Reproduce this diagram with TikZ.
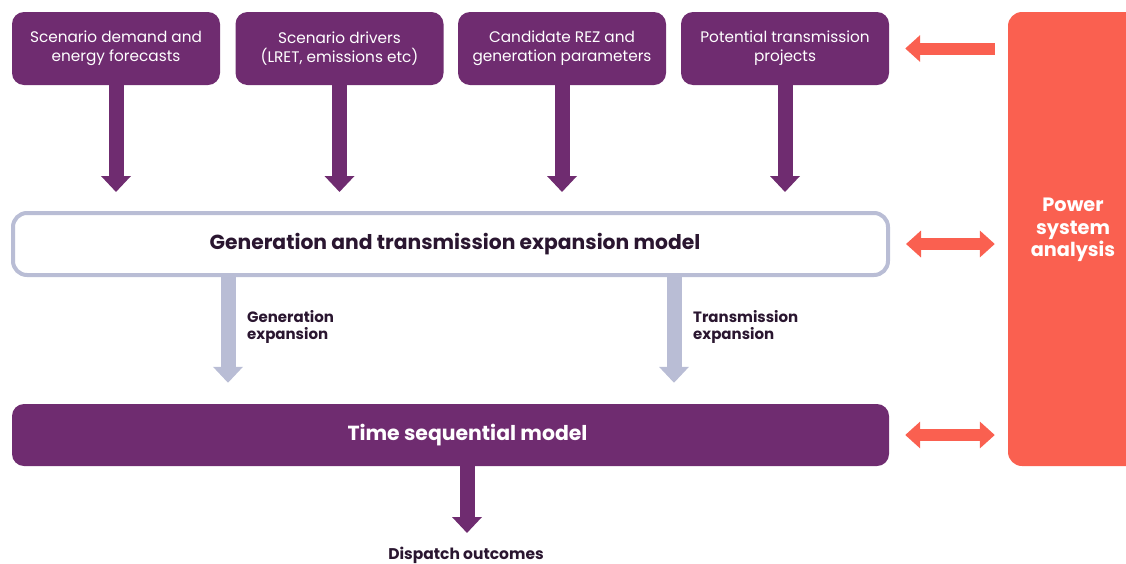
\documentclass[tikz,border=0pt]{standalone}
\usepackage{fontspec}
\setmainfont{Poppins}
\usetikzlibrary{arrows.meta}
\definecolor{ppl}{HTML}{6F2C70}
\definecolor{gry}{HTML}{B9BDD5}
\definecolor{rd}{HTML}{FA6050}
\definecolor{dk}{HTML}{2A1630}
\tikzset{
  topbox/.style={fill=ppl, rounded corners=12pt, minimum width=208pt, minimum height=73pt, text=white, align=center, inner sep=0pt, font=\fontsize{15.3}{19}\selectfont},
  purarrow/.style={draw=ppl, line width=15pt, -{Triangle[width=29pt,length=16pt]}},
  gryarrow/.style={draw=gry, line width=15pt, -{Triangle[width=29pt,length=16pt]}},
  redarrow/.style={draw=rd, line width=12pt, -{Triangle[width=26pt,length=15pt]}},
  redboth/.style={draw=rd, line width=12pt, {Triangle[width=26pt,length=15pt]}-{Triangle[width=26pt,length=15pt]}},
  lbl/.style={text=dk, align=left, font=\bfseries\fontsize{15}{17}\selectfont, inner sep=0pt, anchor=west},
}
\begin{document}
\begin{tikzpicture}[x=1pt,y=-1pt]
\useasboundingbox (0,0) rectangle (1126,563);
\node[topbox] (b1) at (116,48.5) {Scenario demand and\\energy forecasts};
\node[topbox] (b2) at (339.5,48.5) {Scenario drivers\\(LRET, emissions etc)};
\node[topbox] (b3) at (562,48.5) {Candidate REZ and\\generation parameters};
\node[topbox] (b4) at (785,48.5) {Potential transmission\\projects};
\node[draw=gry, line width=4pt, fill=white, rounded corners=14pt, minimum width=875pt, minimum height=62pt, inner sep=0pt, text=dk, font=\bfseries\fontsize{20.3}{22}\selectfont] (gt) at (450.5,244) {\hspace*{9pt}Generation and transmission expansion model};
\node[fill=ppl, rounded corners=12pt, minimum width=877pt, minimum height=62pt, inner sep=0pt, text=white, font=\bfseries\fontsize{20.4}{22}\selectfont] (ts) at (450.5,435) {\hspace*{34pt}Time sequential model};
\node[fill=rd, rounded corners=14pt, minimum width=132pt, minimum height=454pt, inner sep=0pt] (ps) at (1074,239) {};
\node[text=white, align=center, font=\bfseries\fontsize{19.3}{22.5}\selectfont] (pst) at (1073,230) {Power\\system\\analysis};
\foreach \b in {b1,b2,b3,b4}{
  \draw[purarrow, shorten >=19pt] (\b.south) -- (\b.south |- gt.north);
}
\coordinate (g1) at (228,276);
\coordinate (g2) at (674,276);
\draw[gryarrow, shorten >=21pt] (g1) -- (g1 |- ts.north);
\draw[gryarrow, shorten >=21pt] (g2) -- (g2 |- ts.north);
\node[lbl] (lg) at (247,326.5) {Generation\\expansion};
\node[lbl] (lt) at (693,326.5) {Transmission\\expansion};
\coordinate (d0) at (467,466);
\node[text=dk, font=\bfseries\fontsize{15.5}{16}\selectfont, inner sep=0pt] (disp) at (466,555.5) {Dispatch outcomes};
\draw[purarrow] (d0) -- (467,533);
\draw[redarrow, shorten <=13pt, shorten >=16pt] (b4.east -| ps.west) -- (b4.east);
\draw[redboth, shorten <=16pt, shorten >=13pt] (gt.east) -- (gt.east -| ps.west);
\draw[redboth, shorten <=16pt, shorten >=13pt] (ts.east) -- (ts.east -| ps.west);
\end{tikzpicture}
\end{document}
